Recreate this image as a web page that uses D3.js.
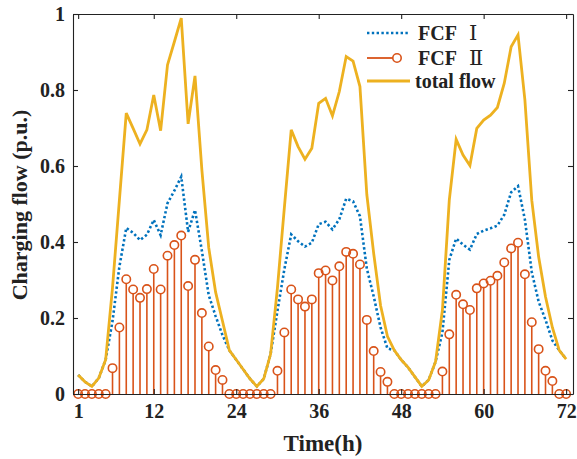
<!DOCTYPE html>
<html>
<head>
<meta charset="utf-8">
<script src="https://cdn.jsdelivr.net/npm/d3@7/dist/d3.min.js"></script>
<style>
  html, body { margin: 0; padding: 0; background: #fff; }
  svg { display: block; }
  text { font-family: "Liberation Serif", "Times New Roman", serif; font-weight: bold; fill: #222; }
</style>
</head>
<body>
<svg id="chart" width="577" height="459"></svg>
<script>
// Hours of the three-day horizon
const hours = d3.range(1, 73);

// Fast-charging facility I flow (p.u.)
const fcf1 = [
  0.050, 0.032, 0.020, 0.042, 0.090, 0.192, 0.335, 0.437, 0.424, 0.405, 0.419, 0.458,
  0.418, 0.502, 0.535, 0.572, 0.427, 0.484, 0.377, 0.260, 0.205, 0.155, 0.115, 0.090,
  0.065, 0.040, 0.020, 0.040, 0.105, 0.219, 0.328, 0.420, 0.402, 0.388, 0.398, 0.447,
  0.453, 0.433, 0.460, 0.514, 0.507, 0.468, 0.330, 0.257, 0.175, 0.120, 0.115, 0.090,
  0.070, 0.045, 0.020, 0.037, 0.085, 0.162, 0.353, 0.409, 0.393, 0.380, 0.421, 0.430,
  0.436, 0.443, 0.472, 0.531, 0.547, 0.459, 0.321, 0.243, 0.195, 0.141, 0.115, 0.092
];

// Fast-charging facility II flow (p.u.)
const fcf2 = [
  0, 0, 0, 0, 0, 0.068, 0.175, 0.302, 0.275, 0.253, 0.276, 0.329,
  0.275, 0.364, 0.392, 0.417, 0.284, 0.353, 0.213, 0.125, 0.063, 0.037, 0, 0,
  0, 0, 0, 0, 0, 0.061, 0.162, 0.275, 0.249, 0.230, 0.249, 0.318,
  0.325, 0.299, 0.336, 0.374, 0.369, 0.341, 0.195, 0.113, 0.058, 0.032, 0, 0,
  0, 0, 0, 0, 0, 0.059, 0.157, 0.261, 0.236, 0.221, 0.278, 0.291,
  0.298, 0.311, 0.346, 0.383, 0.398, 0.315, 0.189, 0.118, 0.061, 0.034, 0, 0
];

// Total charging flow (p.u.)
const totalFlow = [
  0.050, 0.032, 0.020, 0.042, 0.090, 0.280, 0.510, 0.739, 0.699, 0.658, 0.695, 0.787,
  0.693, 0.866, 0.927, 0.989, 0.711, 0.837, 0.590, 0.385, 0.268, 0.192, 0.115, 0.090,
  0.065, 0.040, 0.020, 0.040, 0.105, 0.280, 0.490, 0.695, 0.651, 0.618, 0.647, 0.765,
  0.778, 0.732, 0.796, 0.888, 0.876, 0.809, 0.525, 0.370, 0.233, 0.152, 0.115, 0.090,
  0.070, 0.045, 0.020, 0.037, 0.085, 0.221, 0.510, 0.670, 0.629, 0.601, 0.699, 0.721,
  0.734, 0.754, 0.818, 0.914, 0.945, 0.774, 0.510, 0.361, 0.256, 0.175, 0.115, 0.092
];

const xTicks = [1, 12, 24, 36, 48, 60, 72];
const yTicks = [0, 0.2, 0.4, 0.6, 0.8, 1];
const seriesNames = ["FCF", "FCF", "total flow"];
const seriesNumerals = ["Ⅰ", "Ⅱ", ""];

const colors = { fcf1: "#0072BD", fcf2: "#D95319", total: "#EDB120" };

const svg = d3.select("#chart");
const plot = { left: 73, right: 573, top: 14, bottom: 394 };

const x = d3.scaleLinear().domain([0.25, 73]).range([plot.left, plot.right]);
const y = d3.scaleLinear().domain([0, 1]).range([plot.bottom, plot.top]);

// Series layers
const g = svg.append("g");

const line = d3.line().x((d, i) => x(hours[i])).y(d => y(d));

g.append("path")
  .datum(fcf1)
  .attr("d", line)
  .attr("fill", "none")
  .attr("stroke", colors.fcf1)
  .attr("stroke-width", 2.6)
  .attr("stroke-dasharray", "2.4 2.4");

// Stem plot: vertical stems with open circle markers
const r = 4.2;
const stems = g.append("g");
stems.selectAll("line")
  .data(fcf2)
  .join("line")
  .attr("x1", (d, i) => x(hours[i]))
  .attr("x2", (d, i) => x(hours[i]))
  .attr("y1", y(0))
  .attr("y2", d => Math.min(y(0), y(d) + r))
  .attr("stroke", colors.fcf2)
  .attr("stroke-width", 1.6);

// Axis box drawn before markers so the zero circles sit on top of the baseline
const box = svg.append("g");

stems.selectAll("circle")
  .data(fcf2)
  .join("circle")
  .attr("cx", (d, i) => x(hours[i]))
  .attr("cy", d => y(d))
  .attr("r", r)
  .attr("fill", "none")
  .attr("stroke", colors.fcf2)
  .attr("stroke-width", 1.6);

g.append("path")
  .datum(totalFlow)
  .attr("d", line)
  .attr("fill", "none")
  .attr("stroke", colors.total)
  .attr("stroke-width", 2.8)
  .attr("stroke-linejoin", "miter");

// Axes: ticks point inward on all four sides
const tickLen = 5;
const axisBottom = d3.axisBottom(x).tickValues(xTicks).tickSizeInner(-tickLen).tickSizeOuter(0).tickPadding(10).tickFormat(d3.format("d"));
const axisTop = d3.axisTop(x).tickValues(xTicks).tickSizeInner(-tickLen).tickSizeOuter(0).tickFormat("");
const axisLeft = d3.axisLeft(y).tickValues(yTicks).tickSizeInner(-tickLen).tickSizeOuter(0).tickPadding(8).tickFormat(d => d === 0 || d === 1 ? d3.format("d")(d) : d3.format(".1f")(d));
const axisRight = d3.axisRight(y).tickValues(yTicks).tickSizeInner(-tickLen).tickSizeOuter(0).tickFormat("");

function styleAxis(sel) {
  sel.select(".domain").attr("stroke", "#222").attr("stroke-width", 1.1);
  sel.selectAll(".tick line").attr("stroke", "#222").attr("stroke-width", 1.1);
  sel.selectAll(".tick text").style("font-size", "20px").style("font-family", "'Liberation Serif', serif").style("font-weight", "bold").attr("fill", "#222");
}

box.append("g").attr("transform", `translate(0,${plot.bottom})`).call(axisBottom).call(styleAxis);
box.append("g").attr("transform", `translate(0,${plot.top})`).call(axisTop).call(styleAxis);
box.append("g").attr("transform", `translate(${plot.left},0)`).call(axisLeft).call(styleAxis);
box.append("g").attr("transform", `translate(${plot.right},0)`).call(axisRight).call(styleAxis);

// Axis titles
svg.append("text")
  .attr("x", 323)
  .attr("y", 451)
  .attr("text-anchor", "middle")
  .style("font-size", "23px")
  .text("Time(h)");

svg.append("text")
  .attr("transform", "translate(27,205) rotate(-90)")
  .attr("text-anchor", "middle")
  .style("font-size", "22px")
  .text("Charging flow (p.u.)");

// Legend
const legend = svg.append("g");
const legendY = [33, 58, 81];

legend.append("line")
  .attr("x1", 367).attr("x2", 410).attr("y1", legendY[0]).attr("y2", legendY[0])
  .attr("stroke", colors.fcf1).attr("stroke-width", 2.6).attr("stroke-dasharray", "2.4 2.4");

legend.append("line")
  .attr("x1", 367).attr("x2", 393).attr("y1", legendY[1]).attr("y2", legendY[1])
  .attr("stroke", colors.fcf2).attr("stroke-width", 1.8);
legend.append("circle")
  .attr("cx", 397).attr("cy", legendY[1]).attr("r", r)
  .attr("fill", "none").attr("stroke", colors.fcf2).attr("stroke-width", 1.6);

legend.append("line")
  .attr("x1", 367).attr("x2", 410).attr("y1", legendY[2]).attr("y2", legendY[2])
  .attr("stroke", colors.total).attr("stroke-width", 2.8);

seriesNames.forEach((name, i) => {
  const t = legend.append("text")
    .attr("x", i === 2 ? 415 : 418)
    .attr("y", legendY[i] + 7)
    .style("font-size", "20px");
  t.append("tspan").text(name);
  if (seriesNumerals[i]) {
    t.append("tspan")
      .attr("dx", 12)
      .style("font-family", "'DejaVu Serif', 'Noto Sans CJK SC', serif")
      .style("font-weight", "normal")
      .style("font-size", "21px")
      .text(seriesNumerals[i]);
  }
});
</script>
</body>
</html>
